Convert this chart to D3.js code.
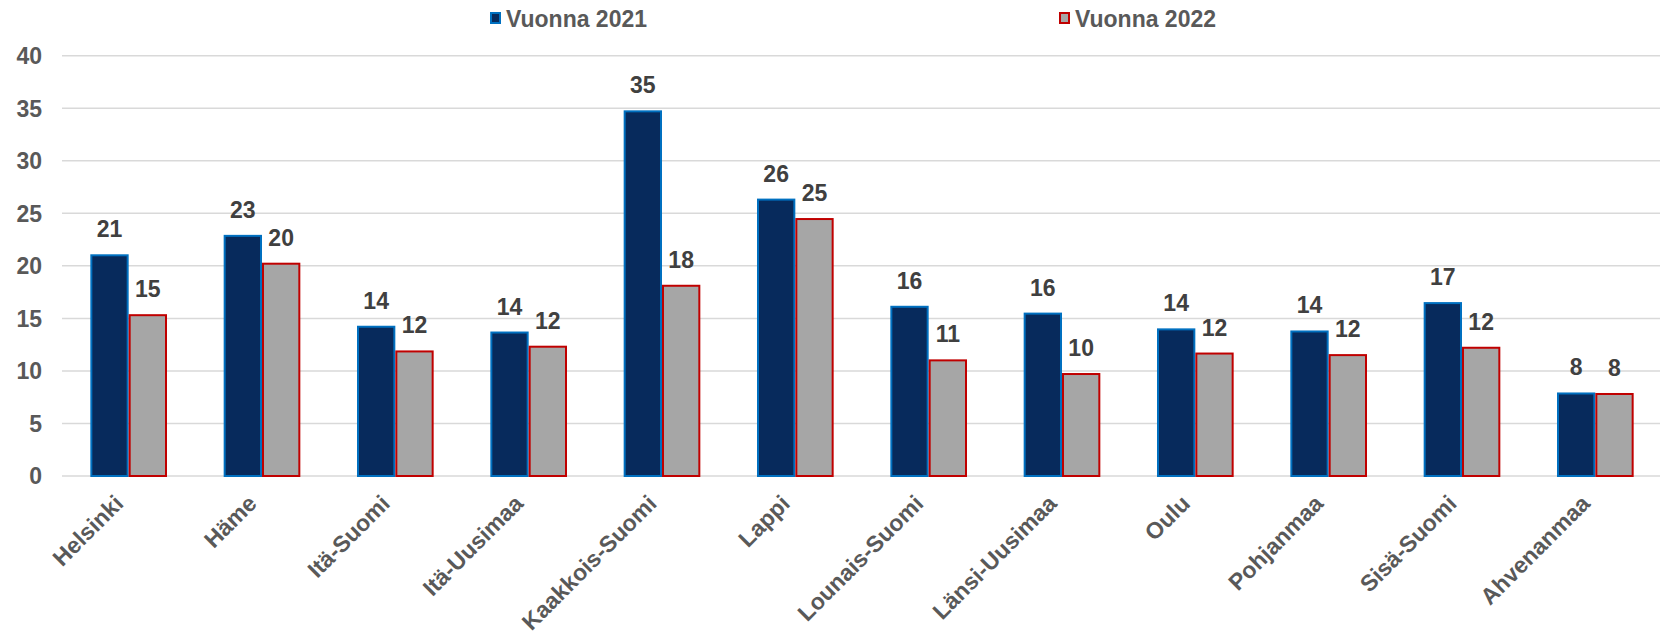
<!DOCTYPE html>
<html>
<head>
<meta charset="utf-8">
<script src="https://cdn.jsdelivr.net/npm/d3@7"></script>
<style>
  body { margin: 0; background: #fff; }
  text { font-family: "Liberation Sans", Arial, sans-serif; font-weight: bold; }
</style>
</head>
<body>
<div id="chart"></div>
<script>
// Data
var regions = ["Helsinki", "Häme", "Itä-Suomi", "Itä-Uusimaa", "Kaakkois-Suomi", "Lappi",
	"Lounais-Suomi", "Länsi-Uusimaa", "Oulu", "Pohjanmaa", "Sisä-Suomi", "Ahvenanmaa"];
var seriesNames = ["Vuonna 2021", "Vuonna 2022"];
var v2021 = [21.1, 22.95, 14.3, 13.75, 34.8, 26.4, 16.2, 15.55, 14.05, 13.85, 16.55, 7.95];
var v2022 = [15.4, 20.3, 11.95, 12.4, 18.2, 24.55, 11.1, 9.8, 11.75, 11.6, 12.3, 7.9];
var yTicks = [0, 5, 10, 15, 20, 25, 30, 35, 40];

// Variables
var width = 1660,
	height = 637,
	fills = ["#072a5c", "#a6a6a6"],
	strokes = ["#0070c0", "#c00000"];

var svg = d3.select("#chart").append("svg")
	.attr("width", width)
	.attr("height", height);

var x0 = d3.scaleBand()
	.domain(regions)
	.range([62, 1662])
	.paddingInner(0.425)
	.paddingOuter(0.2125);

var x1 = d3.scaleBand()
	.domain(seriesNames)
	.range([0, x0.bandwidth()]);

var y = d3.scaleLinear()
	.domain([0, 40])
	.range([476, 55.7]);

// gridlines
svg.append("g")
	.selectAll("line")
	.data(yTicks)
  .enter().append("line")
	.attr("x1", 62)
	.attr("x2", width)
	.attr("y1", function(d) { return y(d); })
	.attr("y2", function(d) { return y(d); })
	.attr("stroke", "#d9d9d9")
	.attr("stroke-width", 1.5);

// y axis labels
svg.append("g")
	.selectAll("text")
	.data(yTicks)
  .enter().append("text")
	.attr("x", 42)
	.attr("y", function(d) { return y(d); })
	.attr("dy", "0.36em")
	.attr("text-anchor", "end")
	.attr("fill", "#595959")
	.style("font-size", "23px")
	.text(function(d) { return d; });

var rows = regions.map(function(r, i) {
	return { region: r, values: [v2021[i], v2022[i]] };
});

var group = svg.append("g")
	.selectAll("g")
	.data(rows)
  .enter().append("g")
	.attr("transform", function(d) { return "translate(" + x0(d.region) + ",0)"; });

var bar = group.selectAll("g")
	.data(function(d) {
		return d.values.map(function(v, j) { return { key: seriesNames[j], value: v, j: j }; });
	})
  .enter().append("g");

bar.append("rect")
	.attr("x", function(d) { return x1(d.key) + 1; })
	.attr("width", x1.bandwidth() - 2)
	.attr("y", function(d) { return y(d.value) + 1; })
	.attr("height", function(d) { return y(0) - y(d.value) - 1; })
	.attr("fill", function(d) { return fills[d.j]; })
	.attr("stroke", function(d) { return strokes[d.j]; })
	.attr("stroke-width", 2);

// value labels
bar.append("text")
	.attr("x", function(d) { return x1(d.key) + x1.bandwidth() / 2; })
	.attr("y", function(d) { return y(d.value) - 17; })
	.attr("text-anchor", "middle")
	.attr("fill", "#404040")
	.style("font-size", "23px")
	.text(function(d) { return Math.round(d.value); });

// category labels, rotated
svg.append("g")
	.selectAll("text")
	.data(regions)
  .enter().append("text")
	.attr("text-anchor", "end")
	.attr("fill", "#595959")
	.style("font-size", "23px")
	.attr("transform", function(d) {
		return "translate(" + (x0(d) + x0.bandwidth() / 2 - 4) + ",505) rotate(-45)";
	})
	.text(function(d) { return d; });

// legend
var legend = svg.append("g")
	.selectAll("g")
	.data(seriesNames)
  .enter().append("g")
	.attr("transform", function(d, i) { return "translate(" + [490, 1059][i] + ",0)"; });

legend.append("rect")
	.attr("x", 1)
	.attr("y", 13)
	.attr("width", 9)
	.attr("height", 10)
	.attr("fill", function(d, i) { return fills[i]; })
	.attr("stroke", function(d, i) { return strokes[i]; })
	.attr("stroke-width", 2);

legend.append("text")
	.attr("x", 16)
	.attr("y", 27)
	.attr("fill", "#595959")
	.style("font-size", "23px")
	.text(function(d) { return d; });
</script>
</body>
</html>
